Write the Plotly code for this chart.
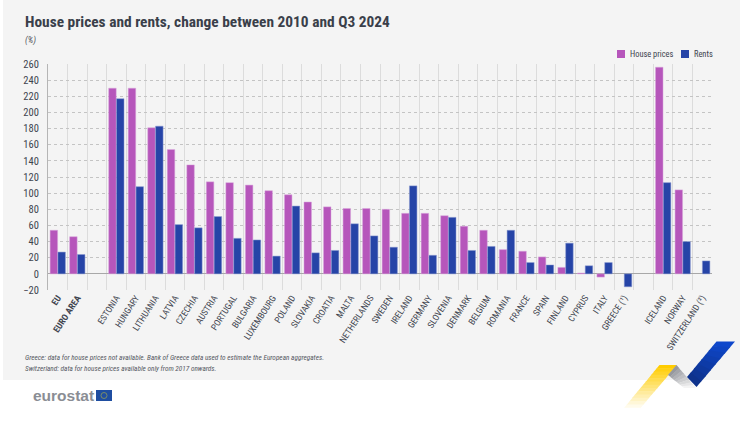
import plotly.graph_objects as go

countries = ['EU', 'EURO AREA', ' ', 'ESTONIA', 'HUNGARY', 'LITHUANIA', 'LATVIA', 'CZECHIA', 'AUSTRIA',
             'PORTUGAL', 'BULGARIA', 'LUXEMBOURG', 'POLAND', 'SLOVAKIA', 'CROATIA', 'MALTA', 'NETHERLANDS', 'SWEDEN',
             'IRELAND', 'GERMANY', 'SLOVENIA', 'DENMARK', 'BELGIUM', 'ROMANIA', 'FRANCE', 'SPAIN', 'FINLAND', 'CYPRUS',
             'ITALY', 'GREECE (¹)', '  ', 'ICELAND', 'NORWAY', 'SWITZERLAND (²)']
house_prices = [54, 46, None, 230, 230, 181, 154, 135, 114, 113, 110, 103, 98, 89, 83, 81, 81, 80, 75, 75, 72, 59, 54,
                30, 28, 21, 8, 1, -4, None, None, 256, 104, None]
rents = [27, 24, None, 217, 108, 183, 61, 57, 71, 44, 42, 22, 84, 26, 29, 62, 47, 33, 109, 23, 70, 29, 34, 54, 14, 11,
         38, 10, 14, -16, None, 113, 40, 16]
y_ticks = list(range(-20, 280, 20))

FONT = 'Roboto Condensed, Open Sans Condensed, DejaVu Sans Condensed, Lato'
TEXT = '#40444f'
PURPLE = '#b656bb'
BLUE = '#2644a7'
W, H = 740, 422
L, R, T, B = 48, 28, 64, 132


# page pixels to paper coordinates, for the background, legend and logo decoration
def px(x):
    return (x - L) / (W - L - R)


def py(y):
    return 1 - (y - T) / (H - T - B)


def poly(points, color, layer='above'):
    path = 'M ' + ' L '.join(f'{px(x):.4f} {py(y):.4f}' for x, y in points) + ' Z'
    return dict(type='path', xref='paper', yref='paper', path=path, fillcolor=color, line_width=0, layer=layer)


def mix(a, b, t):
    return '#' + ''.join(f'{round(a[i] + (b[i] - a[i]) * t):02x}' for i in range(3))


# ribbon band that fades from one colour to another, cut in thin slices
def band(p0, p1, p2, p3, c0, c1, steps=14):
    out = []
    for i in range(steps):
        s, e = i / steps, (i + 1.15) / steps
        e = min(e, 1)
        a = (p0[0] + (p3[0] - p0[0]) * s, p0[1] + (p3[1] - p0[1]) * s)
        b = (p1[0] + (p2[0] - p1[0]) * s, p1[1] + (p2[1] - p1[1]) * s)
        c = (p1[0] + (p2[0] - p1[0]) * e, p1[1] + (p2[1] - p1[1]) * e)
        d = (p0[0] + (p3[0] - p0[0]) * e, p0[1] + (p3[1] - p0[1]) * e)
        out.append(poly([a, b, c, d], mix(c0, c1, i / (steps - 1))))
    return out


fig = go.Figure()
fig.add_bar(x=countries, y=house_prices, name='House prices', marker=dict(color=PURPLE, line=dict(color='#d9a6dc', width=0.5)))
fig.add_bar(x=countries, y=rents, name='Rents', marker=dict(color=BLUE, line=dict(color='#8c9bd0', width=0.5)))

shapes = [poly([(3, 0), (W, 0), (W, 380), (3, 380)], '#f4f4f4', layer='below')]
# legend swatches
shapes.append(poly([(617, 50), (625, 50), (625, 58), (617, 58)], PURPLE))
shapes.append(poly([(681, 50), (689, 50), (689, 58), (681, 58)], BLUE))
# eu flag
shapes.append(poly([(96, 390), (112, 390), (112, 401), (96, 401)], '#1f4ea1'))
shapes.append(dict(type='circle', xref='paper', yref='paper', x0=px(101), x1=px(107), y0=py(398.5), y1=py(392.5),
                   line=dict(color='#8f9a5a', width=0.8)))
# ribbon
shapes += band((659.5, 365), (677, 365), (638, 411), (621.5, 411), (255, 204, 0), (255, 255, 255))
shapes += band((676.5, 365), (668, 375), (684, 388), (696, 388), (150, 152, 158), (244, 244, 244), steps=8)
shapes += band((716.5, 341.5), (735, 341.5), (696.5, 387), (687, 377), (14, 71, 203), (14, 50, 140), steps=8)

annotations = [
    dict(text='<b>House prices and rents, change between 2010 and Q3 2024</b>', x=px(23), y=py(22), font=dict(size=15.4, color='#3a3f4a')),
    dict(text='<i>(%)</i>', x=px(23), y=py(41), font=dict(size=9, color='#555963')),
    dict(text='<i>Greece: data for house prices not available. Bank of Greece data used to estimate the European aggregates.</i>',
         x=px(23), y=py(357), font=dict(size=7.25, color='#555963')),
    dict(text='<i>Switzerland: data for house prices available only from 2017 onwards.</i>',
         x=px(23), y=py(368), font=dict(size=7.25, color='#555963')),
    dict(text='House prices', x=px(628), y=py(54), font=dict(size=8.4)),
    dict(text='Rents', x=px(692), y=py(54), font=dict(size=8.4)),
    dict(text='<b>eurostat</b>', x=px(31), y=py(395), font=dict(size=15.5, color='#8a8d94', family='Liberation Sans')),
]
for a in annotations:
    a.update(xref='paper', yref='paper', xanchor='left', yanchor='middle', showarrow=False)

fig.update_layout(
    width=W, height=H,
    margin=dict(l=L, r=R, t=T, b=B),
    paper_bgcolor='white', plot_bgcolor='rgba(0,0,0,0)',
    font=dict(family=FONT, color=TEXT, size=12),
    barmode='group', bargap=0.2, bargroupgap=0.04,
    showlegend=False,
    shapes=shapes,
    annotations=annotations,
)
fig.update_xaxes(type='category', categoryorder='array', categoryarray=countries, tickson='boundaries', tickangle=-57,
                 labelalias={'EU': '<b>EU</b>', 'EURO AREA': '<b>EURO AREA</b>'},
                 tickfont=dict(size=9, color=TEXT), showgrid=True, gridcolor='#dcdcdc', gridwidth=1, ticks='',
                 showline=False, zeroline=False, range=[-0.5, len(countries) - 0.5])
fig.update_yaxes(range=[-20, 260], tickvals=y_ticks, tickfont=dict(size=10.5, color=TEXT), showgrid=True, gridcolor='#c4c4c4',
                 griddash='dot', gridwidth=1, zeroline=True, zerolinecolor='#a8a8a8', zerolinewidth=1, showline=True,
                 linecolor='#b5b5b5', ticks='', ticklabelstandoff=6)

fig.write_html('out.html', config=dict(displayModeBar=False), post_script="document.body.style.margin='0';")
